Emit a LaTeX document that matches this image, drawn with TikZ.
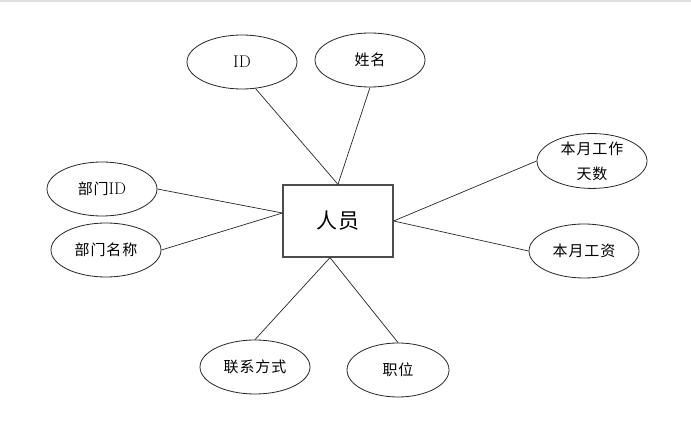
\documentclass[tikz,border=0pt]{standalone}
\usepackage{fontspec}
\newfontfamily\cjk[LetterSpace=6]{Noto Sans CJK SC}
\newcommand\latin{\fontsize{17}{25}\selectfont\rmfamily}
\usetikzlibrary{shapes.geometric}

\begin{document}
\begin{tikzpicture}[x=1pt,y=-1pt,
  attr/.style={ellipse,draw=black!85,line width=0.8pt,minimum width=110pt,
               minimum height=54pt,inner sep=0pt,
               font=\fontsize{15}{25}\selectfont\cjk},
  entity/.style={rectangle,draw=black!70,line width=1.2pt,minimum width=110pt,
                 minimum height=72pt,font=\fontsize{21}{24}\selectfont\cjk},
  link/.style={draw=black!85,line width=0.7pt}]
  \useasboundingbox (0,0) rectangle (691,443);
  \fill[black!12] (0,0) rectangle (691,2);
  % the entity and the points where its links meet it
  \node[entity] (person) at (338,221) {人员};
  \coordinate (pleft) at ([yshift=8pt]person.west);
  \coordinate (pbottom) at ([xshift=-8pt]person.south);
  % attributes
  \node[attr] (id) at (242,62) {\latin ID};
  \node[attr] (name) at (370,60) {姓名};
  \node[attr] (dept) at (102,189) {部门{\latin ID}};
  \node[attr] (dname) at (106,250) {部门名称};
  \node[attr,align=center] (days) at (592,161) {本月工作\\天数};
  \node[attr] (salary) at (584,251) {本月工资};
  \node[attr] (contact) at (255,367) {联系方式};
  \node[attr,minimum width=102pt] (post) at (398,370) {职位};
  % links
  \draw[link] (id.-63) -- (person.north);
  \draw[link] (name.south) -- (person.north);
  \draw[link] (dept.east) -- (pleft);
  \draw[link] (dname.east) -- (pleft);
  \draw[link] (days.west) -- (person.east);
  \draw[link] (salary.west) -- (person.east);
  \draw[link] (contact.north) -- (pbottom);
  \draw[link] (post.north) -- (pbottom);
\end{tikzpicture}
\end{document}
